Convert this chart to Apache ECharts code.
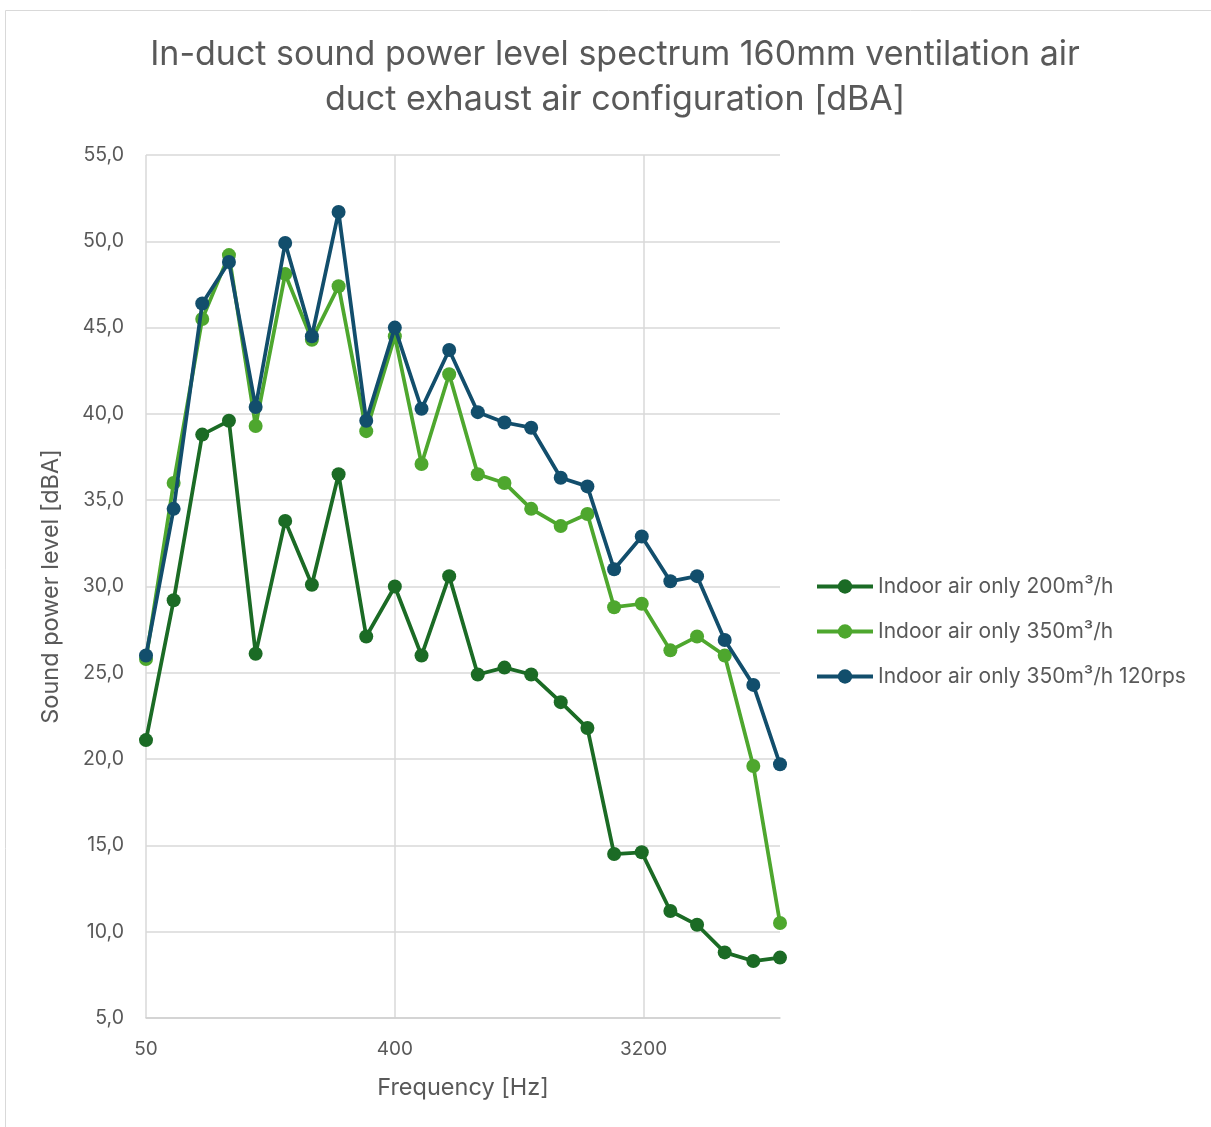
<!DOCTYPE html>
<html>
<head>
<meta charset="utf-8">
<script src="https://cdn.jsdelivr.net/npm/echarts@6/dist/echarts.min.js"></script>
<style>
html,body{margin:0;padding:0;background:#fff;}
#chart{width:1211px;height:1127px;}
</style>
</head>
<body>
<div id="chart"></div>
<script>
const frequencies = [50,63,80,100,125,160,200,250,315,400,500,630,800,1000,1250,1600,2000,2500,3150,4000,5000,6300,8000,10000];
const seriesNames = ['Indoor air only 200m³/h','Indoor air only 350m³/h','Indoor air only 350m³/h 120rps'];
const indoor200 = [21.1,29.2,38.8,39.6,26.1,33.8,30.1,36.5,27.1,30.0,26.0,30.6,24.9,25.3,24.9,23.3,21.8,14.5,14.6,11.2,10.4,8.8,8.3,8.5];
const indoor350 = [25.8,36.0,45.5,49.2,39.3,48.1,44.3,47.4,39.0,44.5,37.1,42.3,36.5,36.0,34.5,33.5,34.2,28.8,29.0,26.3,27.1,26.0,19.6,10.5];
const indoor350rps = [26.0,34.5,46.4,48.8,40.4,49.9,44.5,51.7,39.6,45.0,40.3,43.7,40.1,39.5,39.2,36.3,35.8,31.0,32.9,30.3,30.6,26.9,24.3,19.7];
const xTickLabels = ['50','400','3200'];
const yTickLabels = ['5,0','10,0','15,0','20,0','25,0','30,0','35,0','40,0','45,0','50,0','55,0'];

const colors = ['#1b6b25','#4ea72e','#124e6c'];
const F = 'Inter, "Noto Sans", sans-serif';
const toX = f => Math.log2(f / 50);
const pairs = vals => frequencies.map((f, i) => [toX(f), vals[i]]);

const chart = echarts.init(document.getElementById('chart'), null, {renderer: 'canvas'});
const allSeries = [indoor200, indoor350, indoor350rps].map((vals, i) => ({
  name: seriesNames[i],
  type: 'line',
  data: pairs(vals),
  symbol: 'circle',
  symbolSize: 14,
  lineStyle: {width: 3.75, color: colors[i]},
  itemStyle: {color: colors[i]},
  z: 2 + i
}));

chart.setOption({
  animation: false,
  backgroundColor: '#fff',
  color: colors,
  graphic: [{
    type: 'rect', shape: {x: 5.5, y: 10.5, width: 1210, height: 1120},
    style: {fill: 'none', stroke: '#d9d9d9', lineWidth: 1}, silent: true, z: -10
  }],
  title: {
    text: 'In-duct sound power level spectrum 160mm ventilation air\nduct exhaust air configuration [dBA]',
    left: 610, top: 27, textAlign: 'center',
    textStyle: {fontFamily: F, fontSize: 34, fontWeight: 'normal', color: '#595959', lineHeight: 45}
  },
  legend: {
    orient: 'vertical', left: 810, top: 571,
    itemWidth: 56, itemHeight: 18, itemGap: 24,
    lineStyle: {width: 4},
    textStyle: {fontFamily: F, fontSize: 21, color: '#595959'},
    data: seriesNames
  },
  grid: {left: 146, right: 431, top: 155, bottom: 109, containLabel: false},
  xAxis: {
    type: 'value', min: 0, max: toX(10000), interval: 3,
    name: 'Frequency [Hz]', nameLocation: 'middle', nameGap: 58,
    nameTextStyle: {fontFamily: F, fontSize: 23.5, color: '#595959'},
    axisLine: {show: true, lineStyle: {color: '#d0d0d0', width: 1.5}},
    axisTick: {show: false},
    axisLabel: {
      fontFamily: F, fontSize: 19, color: '#595959', margin: 22, showMaxLabel: false,
      formatter: v => { const k = Math.round(v / 3); return (Math.abs(v - 3 * k) < 1e-6 && k < xTickLabels.length) ? xTickLabels[k] : ''; }
    },
    splitLine: {show: true, showMaxLine: false, lineStyle: {color: '#d9d9d9', width: 1.5}}
  },
  yAxis: {
    type: 'value', min: 5, max: 55, interval: 5,
    name: 'Sound power level [dBA]', nameLocation: 'middle', nameGap: 83, nameRotate: 90,
    nameTextStyle: {fontFamily: F, fontSize: 23.5, color: '#595959'},
    axisLine: {show: false},
    axisTick: {show: false},
    axisLabel: {
      fontFamily: F, fontSize: 19.5, color: '#595959', margin: 22,
      formatter: v => yTickLabels[Math.round((v - 5) / 5)] || ''
    },
    splitLine: {show: true, lineStyle: {color: '#d9d9d9', width: 1.5}}
  },
  series: allSeries
});
</script>
</body>
</html>
